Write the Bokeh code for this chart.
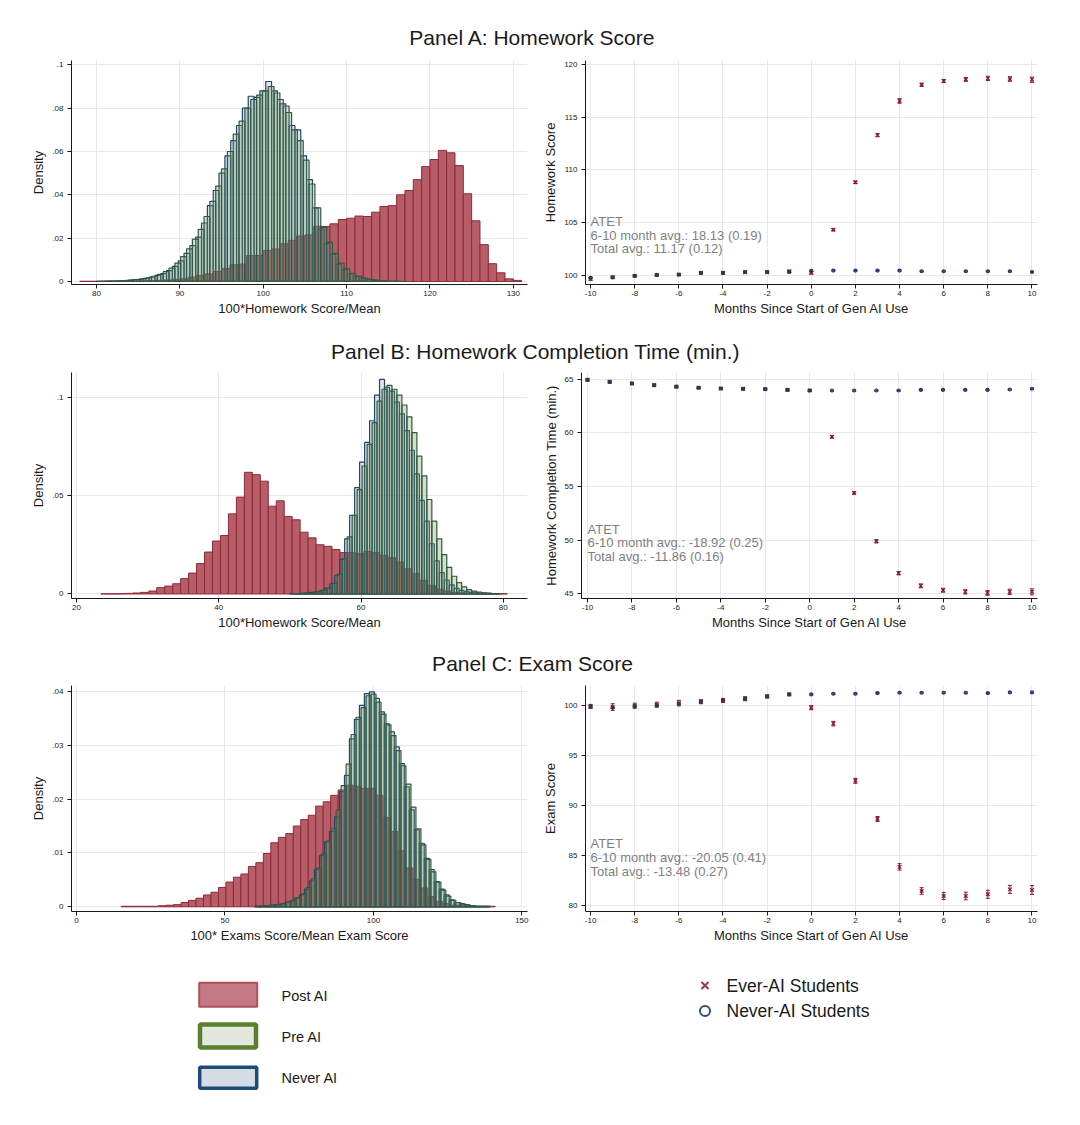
import numpy as np
from bokeh.plotting import figure
from bokeh.models import Range1d, FixedTicker, Label, ColumnDataSource, Whisker, TeeHead
from bokeh.layouts import column, row
from bokeh.embed import file_html
from bokeh.resources import INLINE

FONT = "Liberation Sans"

# ---------------- Histogram data (density per bin) ----------------
# Panel A: 100*Homework Score/Mean
a_post_start, a_post_width = 78.0, 1.0
a_post = [0.0001, 0.0001, 0.0001, 0.0001, 0.0001, 0.0001, 0.0001, 0.0002, 0.0003, 0.0005,
          0.0007, 0.0010, 0.0012, 0.0020, 0.0028, 0.0035, 0.0046, 0.0060, 0.0077, 0.0080,
          0.0120, 0.0120, 0.0143, 0.0150, 0.0174, 0.0190, 0.0210, 0.0215, 0.0255, 0.0254,
          0.0266, 0.0286, 0.0292, 0.0302, 0.0300, 0.0320, 0.0346, 0.0350, 0.0400, 0.0420,
          0.0470, 0.0530, 0.0563, 0.0605, 0.0594, 0.0535, 0.0405, 0.0280, 0.0170, 0.0082,
          0.0040, 0.0012, 0.0005]
a_pre_start, a_pre_width = 80.3, 0.7
a_pre = [0.0001, 0.0002, 0.0002, 0.0003, 0.0004, 0.0006, 0.0009, 0.0012, 0.0017, 0.0024,
         0.0033, 0.0045, 0.0062, 0.0085, 0.0115, 0.0150, 0.0195, 0.0240, 0.0300, 0.0370,
         0.0440, 0.0520, 0.0600, 0.0680, 0.0740, 0.0800, 0.0840, 0.0860, 0.0880, 0.0900,
         0.0870, 0.0820, 0.0780, 0.0700, 0.0650, 0.0560, 0.0450, 0.0340, 0.0250, 0.0180,
         0.0130, 0.0085, 0.0058, 0.0038, 0.0025, 0.0016, 0.0010, 0.0006, 0.0004, 0.0002,
         0.0001, 0.0001]
a_nev_start, a_nev_width = 80.0, 0.7
a_nev = [0.0001, 0.0001, 0.0002, 0.0002, 0.0003, 0.0005, 0.0008, 0.0010, 0.0014, 0.0020,
         0.0028, 0.0036, 0.0050, 0.0070, 0.0095, 0.0130, 0.0165, 0.0205, 0.0270, 0.0350,
         0.0420, 0.0500, 0.0580, 0.0650, 0.0720, 0.0800, 0.0855, 0.0850, 0.0880, 0.0923,
         0.0880, 0.0840, 0.0810, 0.0720, 0.0700, 0.0580, 0.0470, 0.0340, 0.0240, 0.0175,
         0.0125, 0.0080, 0.0055, 0.0035, 0.0022, 0.0015, 0.0010, 0.0006, 0.0004, 0.0002,
         0.0001, 0.0001]

# Panel B: homework completion time
b_post_start, b_post_width = 23.44, 1.12
b_post = [0.0001, 0.0001, 0.0001,
          0.0003, 0.0005, 0.0008, 0.0015, 0.0032, 0.0040, 0.0052, 0.0078, 0.0106, 0.0155,
          0.0213, 0.0269, 0.0297, 0.0407, 0.0492, 0.0618, 0.0606, 0.0573, 0.0446, 0.0473,
          0.0394, 0.0377, 0.0314, 0.0285, 0.0250, 0.0242, 0.0226, 0.0210, 0.0210, 0.0204,
          0.0216, 0.0210, 0.0196, 0.0184, 0.0162, 0.0128, 0.0103, 0.0069, 0.0044, 0.0024,
          0.0014, 0.0008, 0.0005, 0.0003,
          0.0001, 0.0001, 0.0001, 0.0001]
b_pre_start, b_pre_width = 50.35, 0.7
b_pre = [0.0001, 0.0002, 0.0003, 0.0005, 0.0008, 0.0012, 0.0018, 0.0030, 0.0055, 0.0100,
         0.0180, 0.0290, 0.0400, 0.0530, 0.0650, 0.0760, 0.0870, 0.0980, 0.1040, 0.1060,
         0.1040, 0.1010, 0.0960, 0.0900, 0.0820, 0.0700, 0.0600, 0.0480, 0.0370, 0.0280,
         0.0200, 0.0135, 0.0090, 0.0058, 0.0036, 0.0022, 0.0014, 0.0009, 0.0006, 0.0004,
         0.0002, 0.0001]
b_nev_start, b_nev_width = 50.0, 0.7
b_nev = [0.0001, 0.0002, 0.0003, 0.0005, 0.0008, 0.0012, 0.0018, 0.0030, 0.0052, 0.0095,
         0.0175, 0.0280, 0.0400, 0.0540, 0.0670, 0.0770, 0.0880, 0.1010, 0.1090, 0.1050,
         0.1030, 0.0975, 0.0915, 0.0830, 0.0730, 0.0610, 0.0475, 0.0370, 0.0255, 0.0168,
         0.0108, 0.0071, 0.0046, 0.0028, 0.0018, 0.0012, 0.0008, 0.0006, 0.0004, 0.0003,
         0.0002, 0.0001]

# Panel C: exam score
c_post_start, c_post_width = 15.04, 2.52
c_post = [0.0001, 0.0001, 0.0001, 0.0001, 0.0001,
          0.0002, 0.0003, 0.0004, 0.0008, 0.0012, 0.0016, 0.0022, 0.0027, 0.0036, 0.0046,
          0.0055, 0.0061, 0.0075, 0.0082, 0.0099, 0.0119, 0.0129, 0.0136, 0.0150, 0.0162,
          0.0170, 0.0187, 0.0195, 0.0207, 0.0217, 0.0226, 0.0224, 0.0220, 0.0220, 0.0207,
          0.0166, 0.0140, 0.0104, 0.0072, 0.0051, 0.0035, 0.0019, 0.0010, 0.0006, 0.0003,
          0.0002,
          0.0001, 0.0001, 0.0001, 0.0001]
c_pre_start, c_pre_width = 60.56, 1.68
c_pre = [0.0001, 0.0002, 0.0002, 0.0003, 0.0004, 0.0006, 0.0009, 0.0012, 0.0017, 0.0024,
         0.0036, 0.0052, 0.0072, 0.0098, 0.0122, 0.0145, 0.0180, 0.0225, 0.0265, 0.0320,
         0.0352, 0.0370, 0.0392, 0.0395, 0.0380, 0.0358, 0.0338, 0.0318, 0.0290, 0.0262,
         0.0228, 0.0185, 0.0145, 0.0115, 0.0088, 0.0065, 0.0046, 0.0031, 0.0020, 0.0012,
         0.0008, 0.0005, 0.0003, 0.0002, 0.0001, 0.0001, 0.0001]
c_nev_start, c_nev_width = 60.0, 1.68
c_nev = [0.0001, 0.0002, 0.0002, 0.0003, 0.0004, 0.0005, 0.0008, 0.0011, 0.0016, 0.0022,
         0.0033, 0.0048, 0.0069, 0.0095, 0.0120, 0.0140, 0.0167, 0.0214, 0.0244, 0.0312,
         0.0348, 0.0374, 0.0396, 0.0399, 0.0387, 0.0362, 0.0340, 0.0325, 0.0297, 0.0266,
         0.0223, 0.0180, 0.0143, 0.0118, 0.0090, 0.0069, 0.0047, 0.0033, 0.0022, 0.0013,
         0.0008, 0.0006, 0.0004, 0.0002, 0.0001, 0.0001, 0.0001]

# ---------------- Event-study data ----------------
months = [-10, -9, -8, -7, -6, -5, -4, -3, -2, -1, 0, 1, 2, 3, 4, 5, 6, 7, 8, 9, 10]

a_es_ever = [99.65, 99.80, 99.94, 100.03, 100.06, 100.22, 100.22, 100.28, 100.28, 100.38, 100.22,
             104.32, 108.83, 113.31, 116.56, 118.10, 118.45, 118.60, 118.70, 118.64, 118.58]
a_es_ever_err = [0.12, 0.10, 0.08, 0.08, 0.08, 0.08, 0.08, 0.10, 0.10, 0.10, 0.10,
                 0.10, 0.12, 0.15, 0.22, 0.15, 0.15, 0.18, 0.20, 0.22, 0.25]
a_es_never = [99.75, 99.80, 99.94, 100.03, 100.06, 100.22, 100.22, 100.31, 100.31, 100.31, 100.41,
              100.44, 100.44, 100.44, 100.44, 100.38, 100.38, 100.38, 100.38, 100.38, 100.31]
a_es_never_err = [0.08, 0.07, 0.07, 0.06, 0.06, 0.06, 0.06, 0.06, 0.06, 0.06, 0.06,
                  0.05, 0.05, 0.05, 0.05, 0.05, 0.05, 0.05, 0.05, 0.05, 0.05]

b_es_ever = [64.94, 64.75, 64.60, 64.44, 64.30, 64.20, 64.13, 64.10, 64.07, 64.00, 63.94,
             59.63, 54.40, 49.90, 46.93, 45.75, 45.34, 45.19, 45.09, 45.19, 45.19]
b_es_ever_err = [0.12, 0.10, 0.10, 0.10, 0.08, 0.08, 0.08, 0.10, 0.08, 0.08, 0.08,
                 0.12, 0.12, 0.15, 0.15, 0.18, 0.18, 0.20, 0.22, 0.25, 0.28]
b_es_never = [64.94, 64.75, 64.60, 64.44, 64.30, 64.20, 64.13, 64.10, 64.07, 64.00, 63.94,
              63.94, 63.94, 63.94, 63.94, 64.00, 64.00, 64.00, 64.00, 64.03, 64.10]
b_es_never_err = [0.08, 0.07, 0.07, 0.06, 0.06, 0.06, 0.06, 0.06, 0.06, 0.06, 0.06,
                  0.05, 0.05, 0.05, 0.05, 0.05, 0.05, 0.05, 0.05, 0.05, 0.05]

c_es_ever = [99.93, 99.87, 100.00, 100.10, 100.26, 100.40, 100.53, 100.70, 100.93, 101.13, 99.80,
             98.21, 92.50, 88.68, 83.90, 81.49, 80.99, 80.99, 81.16, 81.65, 81.59]
c_es_ever_err = [0.20, 0.33, 0.25, 0.25, 0.28, 0.20, 0.20, 0.20, 0.15, 0.12, 0.20,
                 0.23, 0.25, 0.25, 0.32, 0.33, 0.36, 0.38, 0.40, 0.40, 0.45]
c_es_never = [99.93, 99.80, 99.93, 100.03, 100.20, 100.40, 100.53, 100.70, 100.93, 101.13, 101.13,
              101.20, 101.20, 101.26, 101.30, 101.30, 101.30, 101.30, 101.26, 101.33, 101.33]
c_es_never_err = [0.08, 0.08, 0.07, 0.07, 0.07, 0.06, 0.06, 0.06, 0.06, 0.06, 0.06,
                  0.06, 0.06, 0.06, 0.06, 0.06, 0.06, 0.06, 0.06, 0.06, 0.06]

# ---------------- Texts & ticks ----------------
panel_titles = ["Panel A: Homework Score",
                "Panel B: Homework Completion Time (min.)",
                "Panel C: Exam Score"]
hist_xlabels = ["100*Homework Score/Mean", "100*Homework Score/Mean",
                "100* Exams Score/Mean Exam Score"]
es_ylabels = ["Homework Score", "Homework Completion Time (min.)", "Exam Score"]
es_xlabel = "Months Since Start of Gen AI Use"
atet_a = ["ATET", "6-10 month avg.: 18.13 (0.19)", "Total avg.: 11.17 (0.12)"]
atet_b = ["ATET", "6-10 month avg.: -18.92 (0.25)", "Total avg.: -11.86 (0.16)"]
atet_c = ["ATET", "6-10 month avg.: -20.05 (0.41)", "Total avg.: -13.48 (0.27)"]

a_hx_ticks = [80, 90, 100, 110, 120, 130]
a_hx_labels = ["80", "90", "100", "110", "120", "130"]
a_hy_ticks = [0, 0.02, 0.04, 0.06, 0.08, 0.1]
a_hy_labels = ["0", ".02", ".04", ".06", ".08", ".1"]
b_hx_ticks = [20, 40, 60, 80]
b_hx_labels = ["20", "40", "60", "80"]
b_hy_ticks = [0, 0.05, 0.1]
b_hy_labels = ["0", ".05", ".1"]
c_hx_ticks = [0, 50, 100, 150]
c_hx_labels = ["0", "50", "100", "150"]
c_hy_ticks = [0, 0.01, 0.02, 0.03, 0.04]
c_hy_labels = ["0", ".01", ".02", ".03", ".04"]

es_x_ticks = [-10, -8, -6, -4, -2, 0, 2, 4, 6, 8, 10]
es_x_labels = ["-10", "-8", "-6", "-4", "-2", "0", "2", "4", "6", "8", "10"]
a_ey_ticks = [100, 105, 110, 115, 120]
b_ey_ticks = [45, 50, 55, 60, 65]
c_ey_ticks = [80, 85, 90, 95, 100]

legend_bar_labels = ["Post AI", "Pre AI", "Never AI"]
legend_marker_labels = ["Ever-AI Students", "Never-AI Students"]

# ---------------- Styles ----------------
POST_FILL, POST_LINE = "#b65d68", "#8e2a38"
PRE_FILL, PRE_LINE = "#6f9a5e", "#34583f"
NEV_FILL, NEV_LINE = "#4a74a6", "#22466e"
EVER_C = "#8b1a2b"
NEVER_C = "#1f3a66"
TXT = "#1a1a1a"
GRID = "#e8e8e8"
PAGE_W = 1080


def base_fig(w, h, xr, yr, mb):
    p = figure(width=w, height=h, x_range=Range1d(*xr), y_range=Range1d(*yr),
               output_backend="svg", toolbar_location=None,
               min_border_left=mb[0], min_border_right=mb[1],
               min_border_top=mb[2], min_border_bottom=mb[3])
    p.outline_line_color = None
    p.background_fill_color = "white"
    p.border_fill_color = "white"
    return p


def style_axes(p, xt, xl, yt, yl, xlabel, ylabel):
    p.xaxis.ticker = FixedTicker(ticks=xt)
    p.yaxis.ticker = FixedTicker(ticks=yt)
    p.xaxis.major_label_overrides = dict(zip(xt, xl))
    p.yaxis.major_label_overrides = dict(zip(yt, yl))
    p.xaxis.axis_label = xlabel
    p.yaxis.axis_label = ylabel
    for ax in (p.xaxis[0], p.yaxis[0]):
        ax.axis_line_color = TXT
        ax.axis_line_width = 1
        ax.major_tick_line_color = TXT
        ax.major_tick_out = 4
        ax.major_tick_in = 0
        ax.minor_tick_line_color = None
        ax.major_label_text_font = FONT
        ax.major_label_text_font_size = "8px"
        ax.major_label_text_color = TXT
        ax.axis_label_text_font = FONT
        ax.axis_label_text_font_size = "13px"
        ax.axis_label_text_font_style = "normal"
        ax.axis_label_text_color = TXT
    p.xaxis.major_label_standoff = 2
    p.xaxis.axis_label_standoff = 2
    p.yaxis.major_label_standoff = 4
    p.yaxis.axis_label_standoff = 3
    p.xgrid.grid_line_color = GRID
    p.ygrid.grid_line_color = GRID
    p.xgrid.ticker = FixedTicker(ticks=xt)
    p.ygrid.ticker = FixedTicker(ticks=yt)


def add_hist(p, start, width, heights, fill, alpha, line, lw):
    h = np.array(heights, dtype=float)
    left = start + width * np.arange(len(h))
    src = ColumnDataSource(dict(left=left, right=left + width, top=h))
    p.quad(left="left", right="right", top="top", bottom=0, source=src,
           fill_color=fill, fill_alpha=alpha, line_color=line, line_width=lw)


def hist_panel(h, xr, yr, mb, series, xt, xl, yt, yl, xlabel):
    p = base_fig(540, h, xr, yr, mb)
    for (start, width, heights, fill, alpha, line, lw) in series:
        add_hist(p, start, width, heights, fill, alpha, line, lw)
    style_axes(p, xt, xl, yt, yl, xlabel, "Density")
    return p


def es_panel(h, xr, yr, mb, ever, ever_err, never, never_err, yt, ylabel, atet, atet_y):
    p = base_fig(540, h, xr, yr, mb)
    x = np.array(months, dtype=float)
    e = np.array(ever); ee = np.array(ever_err)
    n = np.array(never); ne = np.array(never_err)
    src_e = ColumnDataSource(dict(x=x, y=e, lo=e - ee, hi=e + ee))
    src_n = ColumnDataSource(dict(x=x, y=n, lo=n - ne, hi=n + ne))
    for src, col in ((src_e, EVER_C), (src_n, NEVER_C)):
        p.add_layout(Whisker(source=src, base="x", lower="lo", upper="hi",
                             line_color=col, line_width=1, level="glyph",
                             lower_head=TeeHead(size=4, line_color=col, line_width=1),
                             upper_head=TeeHead(size=4, line_color=col, line_width=1)))
    p.scatter("x", "y", source=src_e, marker="x", size=5, line_color=EVER_C, line_width=1.3)
    p.scatter("x", "y", source=src_n, marker="circle", size=3, fill_color=None,
              line_color=NEVER_C, line_width=1.1)
    style_axes(p, es_x_ticks, es_x_labels, yt, [str(v) for v in yt], es_xlabel, ylabel)
    for txt, yy in zip(atet, atet_y):
        p.add_layout(Label(x=-10, y=yy, text=txt, text_font=FONT, text_font_size="13px",
                           text_color="#7f7f7f", text_baseline="middle", text_align="left"))
    return p


def title_fig(top, bottom, text, cx, cy):
    p = figure(width=PAGE_W, height=bottom - top, x_range=Range1d(0, PAGE_W),
               y_range=Range1d(bottom, top),
               output_backend="svg", toolbar_location=None, min_border=0,
               x_axis_location=None, y_axis_location=None)
    p.grid.visible = False
    p.outline_line_color = None
    p.add_layout(Label(x=cx, y=cy, text=text, text_font=FONT, text_font_size="21px",
                       text_color=TXT, text_align="center", text_baseline="middle"))
    return p


def hist_series(post, never, pre):
    # draw order: Post AI underneath, Never AI, then Pre AI on top
    return [(post[0], post[1], post[2], POST_FILL, 1.0, POST_LINE, 1),
            (never[0], never[1], never[2], NEV_FILL, 0.2, NEV_LINE, 1.2),
            (pre[0], pre[1], pre[2], PRE_FILL, 0.32, PRE_LINE, 1.2)]


# Panel A (row spans page y 55..325)
hA = hist_panel(270, (77.0, 131.7), (-0.0014, 0.102), (71, 13, 5, 41),
                hist_series((a_post_start, a_post_width, a_post),
                            (a_nev_start, a_nev_width, a_nev),
                            (a_pre_start, a_pre_width, a_pre)),
                a_hx_ticks, a_hx_labels, a_hy_ticks, a_hy_labels, hist_xlabels[0])
eA = es_panel(270, (-10.23, 10.25), (99.12, 120.4), (43, 43, 5, 40),
              a_es_ever, a_es_ever_err, a_es_never, a_es_never_err, a_ey_ticks, es_ylabels[0],
              atet_a, [105.07, 103.81, 102.55])

# Panel B (row spans page y 365..640)
hB = hist_panel(275, (19.3, 83.4), (-0.0023, 0.1125), (71, 13, 7, 42),
                hist_series((b_post_start, b_post_width, b_post),
                            (b_nev_start, b_nev_width, b_nev),
                            (b_pre_start, b_pre_width, b_pre)),
                b_hx_ticks, b_hx_labels, b_hy_ticks, b_hy_labels, hist_xlabels[1])
eB = es_panel(275, (-10.27, 10.25), (44.57, 65.62), (37, 43, 7, 42),
              b_es_ever, b_es_ever_err, b_es_never, b_es_never_err, b_ey_ticks, es_ylabels[1],
              atet_b, [51.02, 49.74, 48.44])

# Panel C (row spans page y 680..945)
hC = hist_panel(265, (-1.7, 151.9), (-0.00087, 0.0411), (71, 13, 5, 33),
                hist_series((c_post_start, c_post_width, c_post),
                            (c_nev_start, c_nev_width, c_nev),
                            (c_pre_start, c_pre_width, c_pre)),
                c_hx_ticks, c_hx_labels, c_hy_ticks, c_hy_labels, hist_xlabels[2])
eC = es_panel(265, (-10.23, 10.25), (79.44, 102.02), (43, 43, 5, 33),
              c_es_ever, c_es_ever_err, c_es_never, c_es_never_err, c_ey_ticks, es_ylabels[2],
              atet_c, [86.2, 84.87, 83.48])

tA = title_fig(0, 55, panel_titles[0], 532, 37)
tB = title_fig(325, 365, panel_titles[1], 535, 351)
tC = title_fig(640, 680, panel_titles[2], 532, 663)

# Legend figure (page-pixel coordinates, page y 945..1115)
lg = figure(width=PAGE_W, height=170, x_range=Range1d(0, PAGE_W), y_range=Range1d(1115, 945),
            output_backend="svg", toolbar_location=None, min_border=0,
            x_axis_location=None, y_axis_location=None)
lg.grid.visible = False
lg.outline_line_color = None
lg.rect(x=[227.7], y=[994.2], width=[58], height=[24], fill_color="#c47a82",
        line_color="#b0505c", line_width=2)
lg.rect(x=[227.5], y=[1035.5], width=[56], height=[23], fill_color="#e3e8dc",
        line_color="#5a7f2e", line_width=4.5)
lg.rect(x=[227.7], y=[1077.2], width=[57], height=[21], fill_color="#d6dce5",
        line_color="#1f4b78", line_width=3.5)
for txt, yy in zip(legend_bar_labels, [995, 1036.5, 1077.5]):
    lg.add_layout(Label(x=281, y=yy, text=txt, text_font=FONT, text_font_size="14.5px",
                        text_color=TXT, text_baseline="middle", text_align="left"))
lg.scatter(x=[704.5], y=[985], marker="x", size=10, line_color="#a0343f", line_width=2)
lg.scatter(x=[704.5], y=[1010.5], marker="circle", size=10, fill_color=None,
           line_color="#2f4f73", line_width=2)
for txt, yy in zip(legend_marker_labels, [985, 1010.5]):
    lg.add_layout(Label(x=726, y=yy, text=txt, text_font=FONT, text_font_size="17.5px",
                        text_color=TXT, text_baseline="middle", text_align="left"))

layout = column(tA, row(hA, eA), tB, row(hB, eB), tC, row(hC, eC), lg)

with open("out.html", "w") as f:
    f.write(file_html(layout, INLINE, "Gen AI and student outcomes"))
